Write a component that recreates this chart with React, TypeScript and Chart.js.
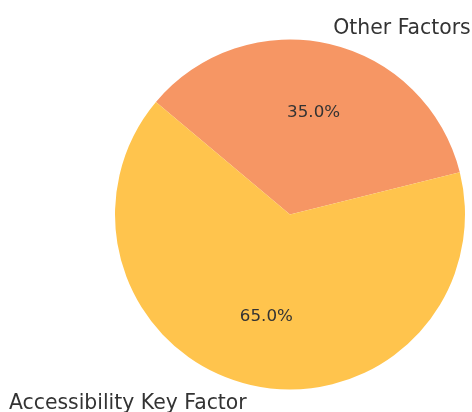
import React, { useEffect, useRef } from "react";
import { Chart, registerables } from "chart.js";

Chart.register(...registerables);

const labels = ["Other Factors", "Accessibility Key Factor"];
const values = [35, 65];
const colors = ["#F69664", "#FFC44D"];

const labelPlugin = {
  id: "pieLabels",
  afterDatasetsDraw(chart: any) {
    const ctx = chart.ctx;
    const meta = chart.getDatasetMeta(0);
    const total = values.reduce((a, b) => a + b, 0);
    ctx.save();
    ctx.fillStyle = "#333333";
    ctx.textBaseline = "middle";
    meta.data.forEach((arc: any, i: number) => {
      const mid = (arc.startAngle + arc.endAngle) / 2;
      const r = arc.outerRadius;
      const cx = arc.x;
      const cy = arc.y;
      const c = Math.cos(mid);
      const s = Math.sin(mid);
      ctx.font = '20.4px "DejaVu Sans", sans-serif';
      ctx.textAlign = c >= 0 ? "left" : "right";
      ctx.fillText(labels[i], cx + 1.1 * r * c, cy + 1.1 * r * s + 2);
      ctx.font = '16.7px "DejaVu Sans", sans-serif';
      ctx.textAlign = "center";
      const pct = ((values[i] / total) * 100).toFixed(1) + "%";
      ctx.fillText(pct, cx + 0.6 * r * c, cy + 0.6 * r * s);
    });
    ctx.restore();
  },
};

export default function App() {
  const ref = useRef<HTMLCanvasElement>(null);
  useEffect(() => {
    const chart = new Chart(ref.current!, {
      type: "pie",
      data: {
        labels,
        datasets: [
          {
            data: values,
            backgroundColor: colors,
            borderWidth: 0,
          },
        ],
      },
      options: {
        animation: false,
        responsive: false,
        rotation: -50,
        layout: { padding: { left: 115, right: 7, top: 39.5, bottom: 22.5 } },
        plugins: { legend: { display: false }, tooltip: { enabled: false } },
      },
      plugins: [labelPlugin],
    });
    return () => chart.destroy();
  }, []);
  return (
    <div style={{ position: "fixed", left: 0, top: 0, width: 472, height: 412, background: "#fff" }}>
      <canvas ref={ref} width={472} height={412} style={{ width: 472, height: 412 }} />
    </div>
  );
}
